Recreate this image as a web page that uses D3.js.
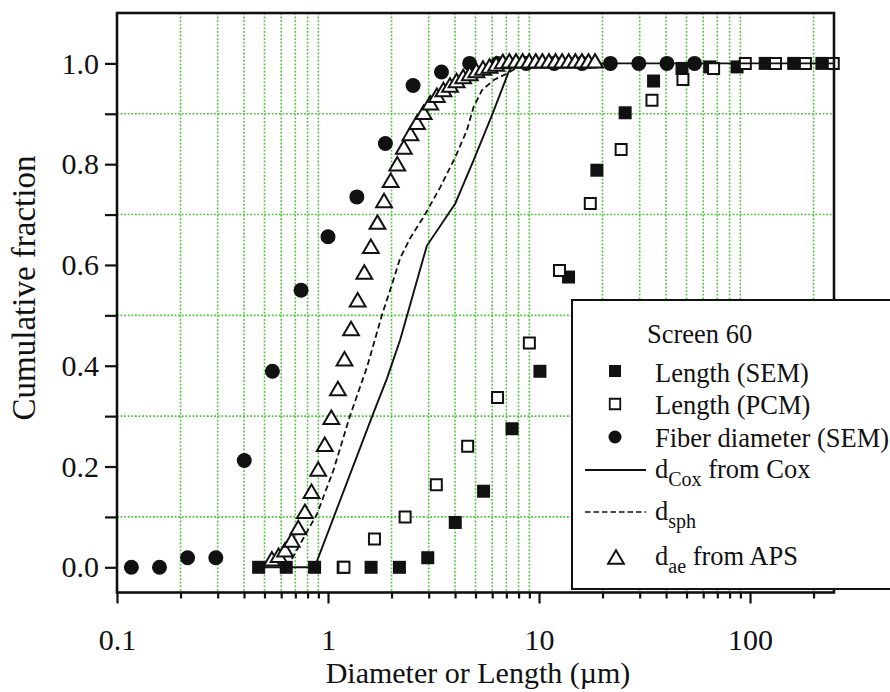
<!DOCTYPE html>
<html>
<head>
<meta charset="utf-8">
<script src="https://cdn.jsdelivr.net/npm/d3@7"></script>
<style>
  html, body { margin: 0; padding: 0; background: #fff; }
  svg { display: block; }
</style>
</head>
<body>
<svg id="chart" width="890" height="692"></svg>
<script>
const FONT = '"Liberation Serif"';
// ---------------- data ----------------
const xMajorTicks = [0.1, 1, 10, 100];
const xMinorTicks = [0.2,0.3,0.4,0.5,0.6,0.7,0.8,0.9, 2,3,4,5,6,7,8,9, 20,30,40,50,60,70,80,90, 200];
const yMajorTicks = [0.0, 0.2, 0.4, 0.6, 0.8, 1.0];
const yMinorTicks = [0.1, 0.3, 0.5, 0.7, 0.9];

// Length (SEM) – filled squares
const lengthSEM_x = [0.469,0.634,0.864,1.18,1.60,2.18,2.97,4.01,5.46,7.45,10.1,13.8,18.8,25.6,34.9,47.6,64.4,86.8,118,161,219];
const lengthSEM_y = [0,0,0,0,0,0,0.019,0.089,0.151,0.275,0.389,0.576,0.788,0.902,0.965,0.990,0.993,0.993,1.0,1.0,1.0];

// Length (PCM) – open squares
const lengthPCM_x = [1.19,1.66,2.32,3.26,4.59,6.36,9.0,12.5,17.5,24.5,34.3,48.1,67.2,95,132,183,248];
const lengthPCM_y = [0,0.056,0.100,0.164,0.240,0.337,0.445,0.589,0.722,0.829,0.927,0.968,0.990,1.0,1.0,1.0,1.0];

// Fiber diameter (SEM) – filled circles
const fiberDiam_x = [0.117,0.159,0.216,0.294,0.401,0.545,0.745,1.0,1.37,1.87,2.53,3.45,4.69,6.37,8.7,11.8,16.0,21.8,29.7,40.4,54.6];
const fiberDiam_y = [0,0,0.019,0.019,0.212,0.389,0.550,0.656,0.735,0.841,0.956,0.983,1.0,1.0,1.0,1.0,1.0,1.0,1.0,1.0,1.0];

// d_Cox from Cox – solid line
const dCox_x = [0.469,0.864,1.62,1.90,2.20,2.94,4.01,4.90,5.98,7.18,7.6,250];
const dCox_y = [0,0,0.300,0.374,0.452,0.638,0.722,0.808,0.897,0.983,1.0,1.0];

// d_sph – dashed line
const dSph_x = [0.64,0.887,1.06,1.27,1.53,1.80,2.04,2.20,2.45,2.90,3.41,4.01,4.55,4.90,5.37,6.10,7.05,8.0,9.5];
const dSph_y = [0,0.106,0.192,0.300,0.397,0.500,0.570,0.614,0.653,0.702,0.755,0.814,0.867,0.914,0.947,0.967,0.980,0.993,1.0];

// d_ae from APS – open triangles
const dAe_x = [0.542,0.583,0.626,0.673,0.723,0.777,0.835,0.898,0.965,1.037,1.114,1.197,1.286,1.382,1.486,1.596,1.715,1.843,1.981,2.129,2.288,2.458,2.642,2.839,3.051,3.278,3.523,3.786,4.068,4.371,4.698,5.048,5.425,5.829,6.264,6.732,7.234,7.774,8.354,8.977,9.647,10.37,11.14,11.97,12.86,13.82,14.86,15.96,17.15,18.43];
const dAe_y = [0.017,0.024,0.035,0.054,0.079,0.111,0.151,0.195,0.244,0.298,0.355,0.414,0.474,0.531,0.586,0.637,0.685,0.728,0.768,0.801,0.834,0.861,0.883,0.903,0.922,0.937,0.948,0.957,0.966,0.974,0.980,0.986,0.991,0.995,0.999,1.004,1.005,1.005,1.005,1.005,1.005,1.005,1.005,1.005,1.005,1.005,1.005,1.005,1.005,1.005];

// ---------------- layout ----------------
const L = 117, R = 834, T = 13, B = 592.5;
const svg = d3.select("#chart");
const x = d3.scaleLog().domain([0.1, 250]).range([L, R]);
const y = d3.scaleLinear().domain([-0.05, 1.1]).range([B, T]);
const zip = (xs, ys) => xs.map((v, i) => [v, ys[i]]);

const GREEN = "#4cc33a";
const INK = "#111";

// grid (minor positions only)
const grid = svg.append("g");
grid.selectAll("line.v").data(xMinorTicks).join("line")
  .attr("x1", d => x(d)).attr("x2", d => x(d))
  .attr("y1", T).attr("y2", B)
  .attr("stroke", GREEN).attr("stroke-width", 1.6).attr("stroke-dasharray", "1.8,1.8");
grid.selectAll("line.h").data(yMinorTicks).join("line")
  .attr("y1", d => y(d)).attr("y2", d => y(d))
  .attr("x1", L).attr("x2", R)
  .attr("stroke", GREEN).attr("stroke-width", 1.6).attr("stroke-dasharray", "1.8,1.8");

// axes
const fmtY = d3.format(".1f");
const yAxis = d3.axisLeft(y).tickValues(yMajorTicks.concat(yMinorTicks)).tickSize(12).tickPadding(6)
  .tickFormat(d => yMajorTicks.some(v => Math.abs(v - d) < 1e-9) ? fmtY(d) : "");
const gy = svg.append("g").attr("transform", `translate(${L},0)`).call(yAxis);
gy.select(".domain").remove();
gy.selectAll(".tick line").attr("stroke", INK).attr("stroke-width", 2.2);
gy.selectAll(".tick text").attr("font-size", 30).style("font-family", FONT).attr("fill", INK);

const xAxisMajor = d3.axisBottom(x).tickValues(xMajorTicks).tickSize(11).tickPadding(25)
  .tickFormat(d => d >= 1 ? d3.format("d")(d) : String(d));
const gx = svg.append("g").attr("transform", `translate(0,${B})`).call(xAxisMajor);
gx.select(".domain").remove();
gx.selectAll(".tick line").attr("stroke", INK).attr("stroke-width", 2.2);
gx.selectAll(".tick text").attr("font-size", 30).style("font-family", FONT).attr("fill", INK);

const xAxisMinor = d3.axisBottom(x).tickValues(xMinorTicks).tickSize(6).tickFormat("");
const gx2 = svg.append("g").attr("transform", `translate(0,${B})`).call(xAxisMinor);
gx2.select(".domain").remove();
gx2.selectAll(".tick line").attr("stroke", INK).attr("stroke-width", 2.2);

// axis titles
svg.append("text").attr("x", 478).attr("y", 683).style("font-family", FONT).attr("fill", INK)
  .attr("text-anchor", "middle").attr("font-size", 30).text("Diameter or Length (\u00b5m)");
svg.append("text").attr("transform", "translate(35,288) rotate(-90)").style("font-family", FONT).attr("fill", INK)
  .attr("text-anchor", "middle").attr("font-size", 33).text("Cumulative fraction");

// ---------------- marks ----------------
const plot = svg.append("g");
const sqSym = d3.symbol().type(d3.symbolSquare).size(13 * 13);
const sqSymOpen = d3.symbol().type(d3.symbolSquare).size(11 * 11);
const circSym = d3.symbol().type(d3.symbolCircle).size(Math.PI * 7.5 * 7.5);
const triType = { draw(ctx, size) { const w = Math.sqrt(size) * 1.17, h = Math.sqrt(size); ctx.moveTo(0, -h / 2); ctx.lineTo(w / 2, h / 2); ctx.lineTo(-w / 2, h / 2); ctx.closePath(); } };
const triSym = d3.symbol().type(triType).size(13.5 * 13.5);

plot.selectAll("path.sem").data(zip(lengthSEM_x, lengthSEM_y)).join("path")
  .attr("transform", d => `translate(${x(d[0])},${y(d[1])})`)
  .attr("d", sqSym).attr("fill", INK);

plot.selectAll("path.pcm").data(zip(lengthPCM_x, lengthPCM_y)).join("path")
  .attr("transform", d => `translate(${x(d[0])},${y(d[1])})`)
  .attr("d", sqSymOpen).attr("fill", "#fff").attr("stroke", INK).attr("stroke-width", 2);

const line = d3.line().x(d => x(d[0])).y(d => y(d[1]));
plot.append("path").datum(zip(dCox_x, dCox_y)).attr("d", line)
  .attr("fill", "none").attr("stroke", INK).attr("stroke-width", 1.9);
plot.append("path").datum(zip(dSph_x, dSph_y)).attr("d", line)
  .attr("fill", "none").attr("stroke", INK).attr("stroke-width", 1.8).attr("stroke-dasharray", "6,3.5");

plot.selectAll("path.fib").data(zip(fiberDiam_x, fiberDiam_y)).join("path")
  .attr("transform", d => `translate(${x(d[0])},${y(d[1])})`)
  .attr("d", circSym).attr("fill", INK);

plot.selectAll("path.aps").data(zip(dAe_x, dAe_y)).join("path")
  .attr("transform", d => `translate(${x(d[0])},${y(d[1])})`)
  .attr("d", triSym).attr("fill", "#fff").attr("stroke", INK).attr("stroke-width", 2);

// frame
svg.append("rect").attr("x", L).attr("y", T).attr("width", R - L).attr("height", B - T)
  .attr("fill", "none").attr("stroke", INK).attr("stroke-width", 2.6);

// ---------------- legend ----------------
const lg = svg.append("g");
lg.append("rect").attr("x", 572).attr("y", 300).attr("width", 340).attr("height", 289)
  .attr("fill", "#fff").attr("stroke", INK).attr("stroke-width", 2);
const LFS = 26.5, SFS = 20;
const ltext = (xx, yy) => lg.append("text").attr("x", xx).attr("y", yy).attr("font-size", LFS).attr("fill", INK).style("font-family", FONT);
ltext(647, 343).text("Screen 60");

lg.append("path").attr("transform", "translate(615,371)").attr("d", d3.symbol().type(d3.symbolSquare).size(12 * 12)).attr("fill", INK);
ltext(655, 382).text("Length (SEM)");

lg.append("path").attr("transform", "translate(615,404)").attr("d", d3.symbol().type(d3.symbolSquare).size(10.5 * 10.5)).attr("fill", "#fff").attr("stroke", INK).attr("stroke-width", 1.8);
ltext(655, 414).text("Length (PCM)");

lg.append("path").attr("transform", "translate(615,437)").attr("d", d3.symbol().type(d3.symbolCircle).size(Math.PI * 6.5 * 6.5)).attr("fill", INK);
ltext(655, 447).text("Fiber diameter (SEM)");

lg.append("line").attr("x1", 585).attr("x2", 646).attr("y1", 470).attr("y2", 470).attr("stroke", INK).attr("stroke-width", 1.8);
const t1 = ltext(655, 478);
t1.append("tspan").text("d");
t1.append("tspan").attr("font-size", SFS).attr("dy", 8).text("Cox");
t1.append("tspan").attr("dy", -8).text(" from Cox");

lg.append("line").attr("x1", 585).attr("x2", 646).attr("y1", 512).attr("y2", 512).attr("stroke", INK).attr("stroke-width", 1.6).attr("stroke-dasharray", "5.5,3");
const t2 = ltext(655, 520);
t2.append("tspan").text("d");
t2.append("tspan").attr("font-size", SFS).attr("dy", 8).text("sph");

lg.append("path").attr("transform", "translate(616,557)").attr("d", d3.symbol().type(triType).size(13.5 * 13.5)).attr("fill", "#fff").attr("stroke", INK).attr("stroke-width", 2);
const t3 = ltext(655, 565);
t3.append("tspan").text("d");
t3.append("tspan").attr("font-size", SFS).attr("dy", 8).text("ae");
t3.append("tspan").attr("dy", -8).text(" from APS");
</script>
</body>
</html>
